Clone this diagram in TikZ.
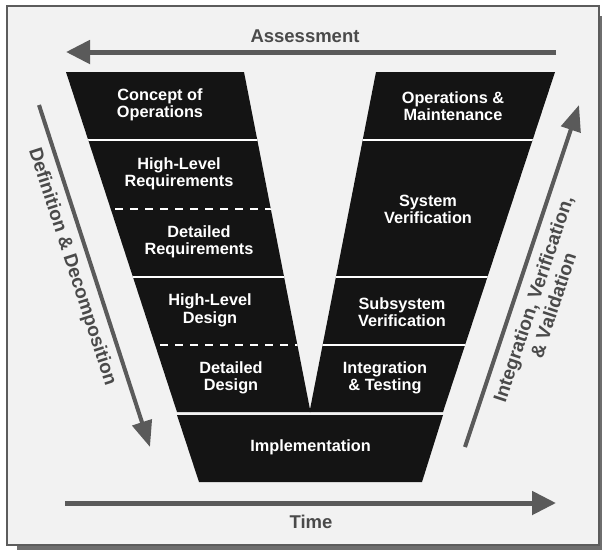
\documentclass[tikz,border=0pt]{standalone}
\usepackage{fontspec}
\setmainfont{Liberation Sans}
\usetikzlibrary{arrows.meta}
\definecolor{blk}{HTML}{141414}
\definecolor{arw}{HTML}{5A5A5A}
\definecolor{lbl}{HTML}{4A4A4A}
\definecolor{bg}{HTML}{F2F2F2}
\definecolor{frm}{HTML}{5C5C5C}
\definecolor{shd}{HTML}{6E6E6E}
\begin{document}
\begin{tikzpicture}[x=1pt,y=-1pt,
  blocktext/.style={text=white, font=\bfseries\fontsize{16.3}{17.5}\selectfont, align=center, inner sep=0pt},
  blockfill/.style={fill=blk},
  sepline/.style={white, line width=2.6pt},
  dsepline/.style={white, line width=2.6pt, dash pattern=on 8pt off 7pt},
  bigarrow/.style={arw, line width=5pt, -{Triangle[length=24pt,width=23pt]}},
  diagarrow/.style={arw, line width=4pt, -{Triangle[length=26pt,width=20pt]}},
  axislabel/.style={text=lbl, font=\bfseries\fontsize{18.5}{20}\selectfont, inner sep=0pt},
  sidelabel/.style={text=lbl, font=\bfseries\fontsize{19}{21}\selectfont, align=center, inner sep=0pt}
]
\useasboundingbox (0,0) rectangle (602,550);
\fill[white] (0,0) rectangle (602,550);
\fill[shd] (17,16) rectangle (602,550);
\draw[fill=bg, draw=frm, line width=1.2pt] (7,6) rectangle (599,545);

% left arm
\fill[blockfill] (66,72) -- (244,72) -- (310.5,412) -- (177,412) -- cycle;
\begin{scope}
  \clip (66,72) -- (244,72) -- (310.5,412) -- (177,412) -- cycle;
  \draw[sepline] (50,140) -- (330,140);
  \draw[dsepline] (100,209) -- (330,209);
  \draw[sepline] (50,277) -- (330,277);
  \draw[dsepline] (145,345) -- (330,345);
\end{scope}

% right arm
\fill[blockfill] (376,72) -- (555,72) -- (443,412) -- (309.5,412) -- cycle;
\begin{scope}
  \clip (376,72) -- (555,72) -- (443,412) -- (309.5,412) -- cycle;
  \draw[sepline] (290,140) -- (570,140);
  \draw[sepline] (290,277) -- (570,277);
  \draw[sepline] (290,345) -- (570,345);
\end{scope}

% implementation
\fill[blockfill] (177,415) -- (443,415) -- (422,482) -- (199,482) -- cycle;

% block texts
\node[blocktext] (concept) at (160,105) {Concept of\\Operations};
\node[blocktext] (hlr) at (179,174) {High-Level\\Requirements};
\node[blocktext] (dr) at (199,242) {Detailed\\Requirements};
\node[blocktext] (hld) at (210,310.5) {High-Level\\Design};
\node[blocktext] (dd) at (231,378) {Detailed\\Design};
\node[blocktext] (om) at (453,106) {Operations \&\\Maintenance};
\node[blocktext] (sv) at (428,209.5) {System\\Verification};
\node[blocktext] (ssv) at (402,312) {Subsystem\\Verification};
\node[blocktext] (it) at (385,378) {Integration\\\& Testing};
\node[blocktext] (impl) at (310.5,447) {Implementation};

% assessment arrow
\coordinate (asA) at (556,52);
\coordinate (asB) at (66,52);
\draw[bigarrow] (asA) -- (asB);
\node[axislabel] (assess) at (305,36) {Assessment};

% time arrow
\coordinate (tA) at (65,503);
\coordinate (tB) at (556,503);
\draw[bigarrow] (tA) -- (tB);
\node[axislabel] (time) at (311,522) {Time};

% left diagonal arrow
\coordinate (dA) at (39,105);
\coordinate (dB) at (150,447);
\draw[diagarrow] (dA) -- (dB);
\node[sidelabel, rotate=-72] (defdec) at (72,267) {Definition \& Decomposition};

% right diagonal arrow
\coordinate (iA) at (465,447);
\coordinate (iB) at (579,105);
\draw[diagarrow] (iA) -- (iB);
\node[sidelabel, rotate=71.6] (ivv) at (543,302) {Integration, Verification,\\\& Validation};
\end{tikzpicture}
\end{document}
